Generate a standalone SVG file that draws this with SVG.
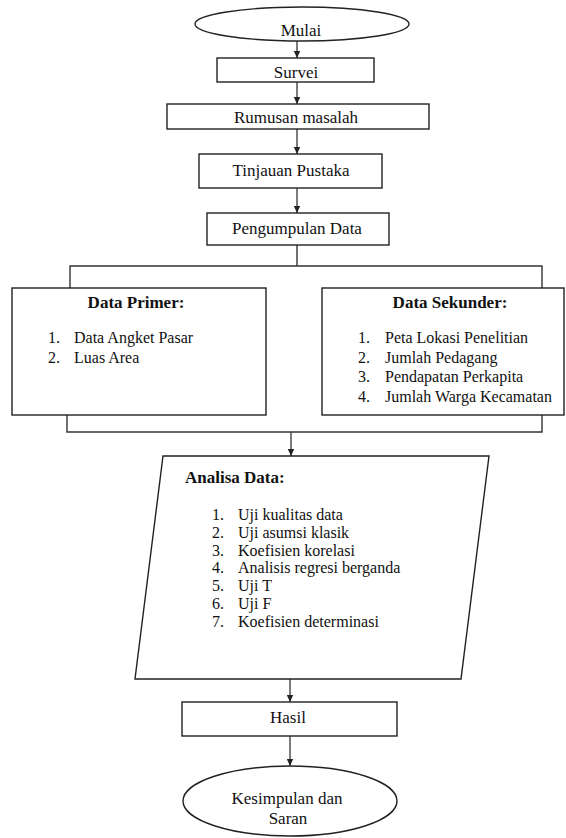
<svg xmlns="http://www.w3.org/2000/svg" width="566" height="838" viewBox="0 0 566 838">
<style>
.s{fill:#fff;stroke:#222;stroke-width:1.4}
.c{fill:none;stroke:#333;stroke-width:1.4}
.a{fill:none;stroke:#444;stroke-width:1.4;marker-end:url(#ah)}
text{font-family:'Liberation Serif','Times New Roman','DejaVu Serif',serif;fill:#111}
.t{font-size:17px;text-anchor:middle}
.b{font-size:17px;font-weight:bold}
.l{font-size:16px}
</style>
<defs>
<marker id="ah" markerWidth="8" markerHeight="8" refX="7" refY="4" orient="auto" markerUnits="userSpaceOnUse">
<path d="M0,0.8 L7,4 L0,7.2 Z" fill="#222"/>
</marker>
</defs>
<rect width="566" height="838" fill="#fff"/>
<g id="connectors">
<line class="a" x1="297" y1="41" x2="297" y2="58"/>
<line class="a" x1="297" y1="82" x2="297" y2="104"/>
<line class="a" x1="297" y1="129" x2="297" y2="154"/>
<line class="a" x1="297" y1="188" x2="297" y2="213"/>
<path class="c" d="M297,245 V266 M70,288 V266 H542 V288"/>
<path class="c" d="M67,415 V432 H542 V415"/>
<line class="a" x1="291" y1="432" x2="291" y2="456"/>
<line class="a" x1="290" y1="679" x2="290" y2="702"/>
<line class="a" x1="290" y1="736" x2="290" y2="766"/>
</g>
<g id="mulai" font-family="Liberation Serif, serif">
<ellipse class="s" cx="302" cy="24" rx="107" ry="17"/>
<text class="t" x="301" y="36">Mulai</text>
</g>
<g id="survei">
<rect class="s" x="217" y="58" width="157" height="24"/>
<text class="t" x="296" y="78">Survei</text>
</g>
<g id="rumusan">
<rect class="s" x="167" y="104" width="262" height="25"/>
<text class="t" x="296" y="123">Rumusan masalah</text>
</g>
<g id="tinjauan">
<rect class="s" x="199" y="154" width="183" height="34"/>
<text class="t" x="291" y="176">Tinjauan Pustaka</text>
</g>
<g id="pengumpulan">
<rect class="s" x="207" y="213" width="182" height="32"/>
<text class="t" x="297" y="234">Pengumpulan Data</text>
</g>
<g id="primer">
<rect class="s" x="12" y="288" width="254" height="127"/>
<text class="b" x="136" y="308" text-anchor="middle">Data Primer:</text>
<text class="l" x="48" y="343">1.</text><text class="l" x="74" y="343">Data Angket Pasar</text>
<text class="l" x="48" y="363">2.</text><text class="l" x="74" y="363">Luas Area</text>
</g>
<g id="sekunder">
<rect class="s" x="322" y="288" width="242" height="127"/>
<text class="b" x="450" y="308" text-anchor="middle">Data Sekunder:</text>
<text class="l" x="358" y="343">1.</text><text class="l" x="385" y="343">Peta Lokasi Penelitian</text>
<text class="l" x="358" y="362.5">2.</text><text class="l" x="385" y="362.5">Jumlah Pedagang</text>
<text class="l" x="358" y="382">3.</text><text class="l" x="385" y="382">Pendapatan Perkapita</text>
<text class="l" x="358" y="401.5">4.</text><text class="l" x="385" y="401.5">Jumlah Warga Kecamatan</text>
</g>
<g id="analisa">
<polygon class="s" points="163,456 489,456 461,679 135,679"/>
<text class="b" x="185" y="483">Analisa Data:</text>
<text class="l" x="212" y="520">1.</text><text class="l" x="238" y="520">Uji kualitas data</text>
<text class="l" x="212" y="537.75">2.</text><text class="l" x="238" y="537.75">Uji asumsi klasik</text>
<text class="l" x="212" y="555.5">3.</text><text class="l" x="238" y="555.5">Koefisien korelasi</text>
<text class="l" x="212" y="573.25">4.</text><text class="l" x="238" y="573.25">Analisis regresi berganda</text>
<text class="l" x="212" y="591">5.</text><text class="l" x="238" y="591">Uji T</text>
<text class="l" x="212" y="608.75">6.</text><text class="l" x="238" y="608.75">Uji F</text>
<text class="l" x="212" y="626.5">7.</text><text class="l" x="238" y="626.5">Koefisien determinasi</text>
</g>
<g id="hasil">
<rect class="s" x="182" y="702" width="215" height="34"/>
<text class="t" x="288" y="723">Hasil</text>
</g>
<g id="kesimpulan">
<ellipse class="s" cx="290" cy="801" rx="107" ry="35"/>
<text class="t" x="287" y="804">Kesimpulan dan</text>
<text class="t" x="288" y="824">Saran</text>
</g>
</svg>
